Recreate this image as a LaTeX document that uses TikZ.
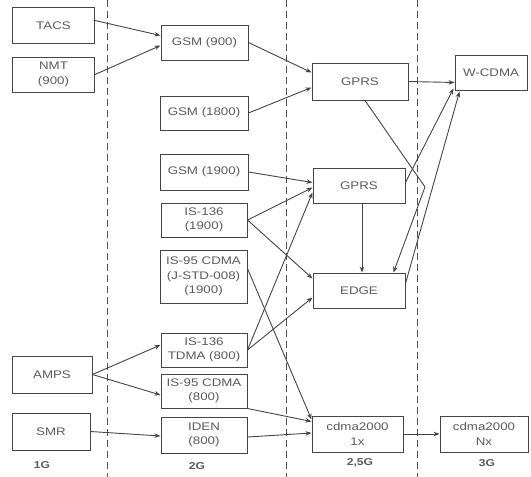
\documentclass[tikz,border=0pt]{standalone}
\usepackage{fontspec}
\setmainfont[FakeStretch=1.21]{Liberation Sans}
\usepackage{xcolor}
\definecolor{lineGray}{HTML}{444444}
\definecolor{txtGray}{HTML}{5A5A5A}
\definecolor{sepGray}{HTML}{505050}
\usepackage{tikz}
\usetikzlibrary{arrows.meta,calc}

\begin{document}
\begin{tikzpicture}[x=1pt,y=-1pt,>={Stealth[length=6pt,width=4.5pt]},
  box/.style={draw=lineGray, line width=1pt, text=txtGray, align=center,
    inner sep=1pt, font=\fontsize{11}{14.5}\selectfont},
  arr/.style={->, draw=lineGray, line width=0.9pt},
  era/.style={text=txtGray, font=\bfseries\fontsize{10}{12}\selectfont}]
  \useasboundingbox (0,0) rectangle (531,477);
  % generation separators
  \foreach \xd in {107.5,286,417}
    \draw[sepGray, line width=0.9pt, dash pattern=on 7pt off 4pt] (\xd,0) -- (\xd,477);
  % 1G
  \node[box, minimum width=82, minimum height=36] (TACS) at (53.5,25.5) {TACS};
  \node[box, minimum width=82, minimum height=35] (NMT) at (53.5,74.5) {NMT\\(900)};
  \node[box, minimum width=80, minimum height=37] (AMPS) at (52,374.5) {AMPS};
  \node[box, minimum width=78, minimum height=37] (SMR) at (51,431.5) {SMR};
  % 2G
  \node[box, minimum width=87, minimum height=35] (GSMa) at (204.5,42.5) {GSM (900)};
  \node[box, minimum width=88, minimum height=34] (GSMb) at (204,113) {GSM (1800)};
  \node[box, minimum width=88, minimum height=36] (GSMc) at (204,172) {GSM (1900)};
  \node[box, minimum width=86, minimum height=34] (ISa) at (204,220) {IS-136\\(1900)};
  \node[box, minimum width=87, minimum height=53] (CDMAa) at (203.5,276.5) {IS-95 CDMA\\(J-STD-008)\\(1900)};
  \node[box, minimum width=86, minimum height=34] (ISb) at (204,350) {IS-136\\TDMA (800)};
  \node[box, minimum width=86, minimum height=34] (CDMAb) at (204,391) {IS-95 CDMA\\(800)};
  \node[box, minimum width=86, minimum height=36] (IDEN) at (204,435) {IDEN\\(800)};
  % 2,5G
  \node[box, minimum width=96, minimum height=37] (GPRSa) at (360,81.5) {GPRS};
  \node[box, minimum width=92, minimum height=35] (GPRSb) at (359,185.5) {GPRS};
  \node[box, minimum width=92, minimum height=35] (EDGE) at (359,290.5) {EDGE};
  \node[box, minimum width=91, minimum height=36] (CDa) at (357.5,434) {cdma2000\\1x};
  % 3G
  \node[box, minimum width=72, minimum height=35] (WCDMA) at (491,72.5) {W-CDMA};
  \node[box, minimum width=88, minimum height=36] (CDb) at (484,434) {cdma2000\\Nx};
  % generation labels
  \node[era] (gA) at (42,465) {1G};
  \node[era] (gB) at (197,466) {2G};
  \node[era] (gC) at (360,463) {2,5G};
  \node[era] (gD) at (487,463) {3G};
  % 1G -> 2G
  \draw[arr] ([yshift=5pt]TACS.east) -- ([yshift=7pt]GSMa.west);
  \draw[arr] (NMT.east) -- ([yshift=-3pt]GSMa.west);
  \draw[arr] (AMPS.east) -- ([yshift=5pt]ISb.west);
  \draw[arr] (AMPS.east) -- ([yshift=-4pt]CDMAb.west);
  \draw[arr] (SMR.east) -- ([yshift=-1pt]IDEN.west);
  % 2G -> 2,5G
  \draw[arr] (GSMa.east) -- ([yshift=9pt]GPRSa.west);
  \draw[arr] (GSMb.east) -- ([yshift=-6pt]GPRSa.west);
  \draw[arr] (GSMc.east) -- ([yshift=3pt]GPRSb.west);
  \draw[arr] (ISa.east) -- ([yshift=-2pt]GPRSb.west);
  \draw[arr] (ISa.east) -- ([yshift=12pt]EDGE.west);
  \draw[arr] (ISb.east) -- ([yshift=-7pt]GPRSb.west);
  \draw[arr] (ISb.east) -- ([yshift=-7pt]EDGE.west);
  \draw[arr] ([yshift=8pt]CDMAa.east) -- ([yshift=-4pt]CDa.north west);
  \draw[arr] (CDMAb.south east) -- ([yshift=-6pt]CDa.north west);
  \draw[arr] ([yshift=-2pt]IDEN.east) -- ([yshift=1pt]CDa.west);
  % inside 2,5G
  \draw[arr] ([xshift=3pt]GPRSb.south) -- ([xshift=3pt]EDGE.north);
  \coordinate (kink) at (425,187);
  \draw[arr] ([xshift=5pt]GPRSa.south) -- (kink) -- ([xshift=-12pt]EDGE.north east);
  % 2,5G -> 3G
  \draw[arr] (GPRSa.east) -- ([yshift=-10pt]WCDMA.west);
  \draw[arr] ([yshift=3pt]GPRSb.east) -- ([xshift=-1pt,yshift=2pt]WCDMA.south west);
  \draw[arr] ([yshift=7pt]EDGE.east) -- ([xshift=5pt,yshift=-1pt]WCDMA.south west);
  \draw[arr] (CDa.east) -- (CDb.west);
\end{tikzpicture}
\end{document}
